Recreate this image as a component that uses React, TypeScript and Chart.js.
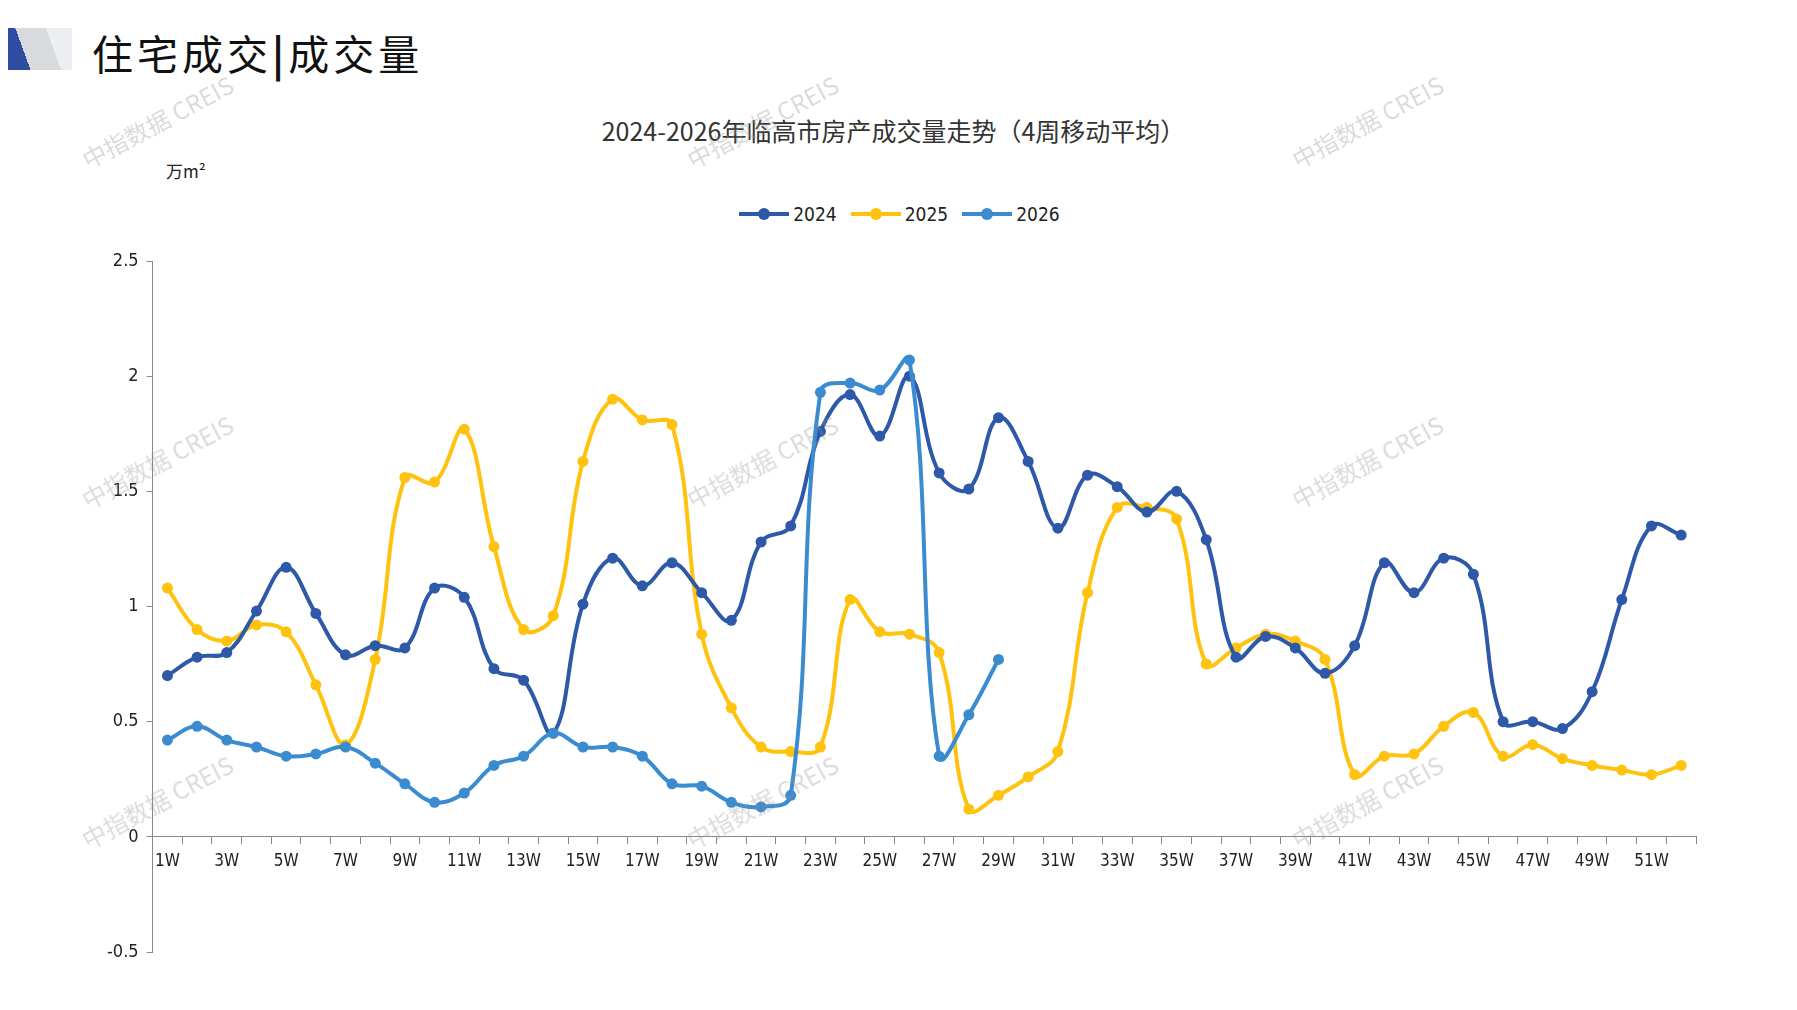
import React, { useEffect, useRef } from "react";
import { Chart, registerables } from "chart.js";
Chart.register(...registerables);

const weeks = Array.from({ length: 52 }, (_, i) => `${i + 1}W`);
const s2024 = [0.70,0.78,0.80,0.98,1.17,0.97,0.79,0.83,0.82,1.08,1.04,0.73,0.68,0.45,1.01,1.21,1.09,1.19,1.06,0.94,1.28,1.35,1.76,1.92,1.74,2.00,1.58,1.51,1.82,1.63,1.34,1.57,1.52,1.41,1.50,1.29,0.78,0.87,0.82,0.71,0.83,1.19,1.06,1.21,1.14,0.50,0.50,0.47,0.63,1.03,1.35,1.31];
const s2025 = [1.08,0.90,0.85,0.92,0.89,0.66,0.40,0.77,1.56,1.54,1.77,1.26,0.90,0.96,1.63,1.90,1.81,1.79,0.88,0.56,0.39,0.37,0.39,1.03,0.89,0.88,0.80,0.12,0.18,0.26,0.37,1.06,1.43,1.43,1.38,0.75,0.82,0.88,0.85,0.77,0.27,0.35,0.36,0.48,0.54,0.35,0.40,0.34,0.31,0.29,0.27,0.31];
const s2026 = [0.42,0.48,0.42,0.39,0.35,0.36,0.39,0.32,0.23,0.15,0.19,0.31,0.35,0.45,0.39,0.39,0.35,0.23,0.22,0.15,0.13,0.18,1.93,1.97,1.94,2.07,0.35,0.53,0.77];
const names = ["2024", "2025", "2026"];
const colors = ["#2E58A8", "#FFC20E", "#3A8BD0"];

const FONT = "'DejaVu Sans Condensed', 'Noto Sans CJK SC', sans-serif";
const CJK = "'Noto Sans CJK SC', sans-serif";
const wm = [
  [75, 145], [680, 145], [1285, 145],
  [75, 485], [680, 485], [1285, 485],
  [75, 825], [680, 825], [1285, 825],
];

export default function App() {
  const ref = useRef<HTMLCanvasElement>(null);
  useEffect(() => {
    const ds = [s2024, s2025, s2026].map((d, i) => ({
      label: names[i], data: d, borderColor: colors[i], backgroundColor: colors[i],
      borderWidth: 4, pointRadius: 5.5, pointBorderWidth: 0, tension: 0.4,
      order: i === 2 ? 0 : i + 1,
    }));
    const c = new Chart(ref.current!, {
      type: "line",
      data: { labels: weeks, datasets: ds },
      options: {
        animation: false, responsive: false, maintainAspectRatio: false,
        layout: { padding: { top: 21, right: 101, bottom: 58, left: 99 } },
        plugins: { legend: { display: false }, tooltip: { enabled: false } },
        scales: {
          x: {
            position: { y: 0 } as any,
            offset: true,
            grid: { display: true, drawOnChartArea: false, offset: true, color: "#888", tickLength: 7 },
            border: { color: "#888" },
            ticks: {
              autoSkip: false, maxRotation: 0, color: "#222", padding: 8,
              font: { family: FONT, size: 17 },
              callback: (v: any, i: number) => (i % 2 === 0 ? weeks[i] : ""),
            },
          },
          y: {
            min: -0.5, max: 2.5,
            grid: { display: true, drawOnChartArea: false, color: "#888", tickLength: 6 },
            border: { color: "#888" },
            ticks: { stepSize: 0.5, color: "#222", font: { family: FONT, size: 18 }, padding: 8,
              callback: (v: any) => String(Number(v)) },
          },
        },
      },
    });
    return () => c.destroy();
  }, []);
  return (
    <div style={{ position: "relative", width: 1797, height: 1010, background: "#fff", margin: -8, fontFamily: CJK, overflow: "hidden" }}>
      <div style={{ position: "absolute", left: 0, top: 28, width: 72, height: 42, background: "linear-gradient(70deg,#2F4DA0 0 35%,#d8dade 35% 70%,#eceef1 70%)" }} />
      <div style={{ position: "absolute", left: 92, top: 22, fontSize: 41, color: "#111", letterSpacing: 4 }}>住宅成交<span style={{ fontWeight: 700 }}>|</span>成交量</div>
      <div style={{ position: "absolute", left: 0, width: 1797, top: 112, textAlign: "center", fontSize: 25, color: "#333" }}>
        <span style={{ marginRight: 10 }}>2024-2026年临高市房产成交量走势（4周移动平均）</span>
      </div>
      <div style={{ position: "absolute", left: 166, top: 158, fontSize: 17, color: "#222" }}>万m²</div>
      <div style={{ position: "absolute", left: 0, width: 1797, top: 203, display: "flex", justifyContent: "center", gap: 12, fontSize: 19, color: "#222", fontFamily: FONT, paddingRight: 30 }}>
        {names.map((n, i) => (
          <div key={n} style={{ display: "flex", alignItems: "center", gap: 2 }}>
            <svg width="54" height="16"><line x1="2" y1="8" x2="52" y2="8" stroke={colors[i]} strokeWidth="4" /><circle cx="27" cy="8" r="6" fill={colors[i]} /></svg>
            <span>{n}</span>
          </div>
        ))}
      </div>
      <canvas ref={ref} width={1797} height={770} style={{ position: "absolute", left: 0, top: 240 }} />
      {wm.map(([x, y], i) => (
        <div key={i} style={{ position: "absolute", left: x, top: y, fontSize: 24, color: "rgba(150,150,150,0.35)", transform: "rotate(-28deg)", transformOrigin: "left top", whiteSpace: "nowrap", pointerEvents: "none" }}>中指数据 CREIS</div>
      ))}
    </div>
  );
}
